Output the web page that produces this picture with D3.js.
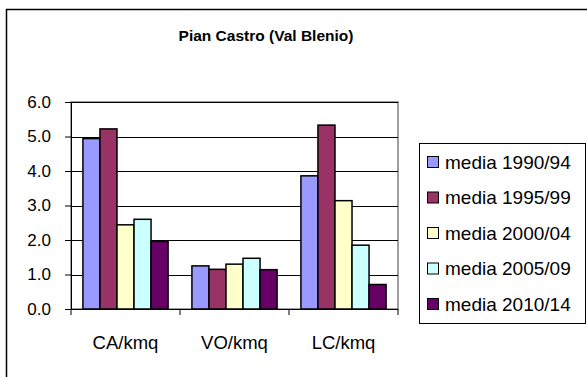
<!DOCTYPE html>
<html>
<head>
<meta charset="utf-8">
<script src="https://cdn.jsdelivr.net/npm/d3@7"></script>
<style>
  html, body { margin: 0; padding: 0; background: #fff; }
  svg text { font-family: "Liberation Sans", Arial, sans-serif; fill: #000; }
</style>
</head>
<body>
<svg id="chart" width="587" height="377"></svg>
<script>
const title = "Pian Castro (Val Blenio)";
const categories = ["CA/kmq", "VO/kmq", "LC/kmq"];
const seriesNames = ["media 1990/94", "media 1995/99", "media 2000/04", "media 2005/09", "media 2010/14"];
const seriesColors = ["#9999ff", "#993366", "#ffffcc", "#ccffff", "#660066"];
const s1990 = [4.94, 1.25, 3.86];
const s1995 = [5.22, 1.15, 5.33];
const s2000 = [2.44, 1.30, 3.14];
const s2005 = [2.60, 1.47, 1.85];
const s2010 = [1.96, 1.14, 0.71];
const yTicks = [0, 1, 2, 3, 4, 5, 6];
const seriesValues = [s1990, s1995, s2000, s2005, s2010];

const svg = d3.select("#chart");

// outer chart border
svg.append("rect").attr("x", 6.5).attr("y", 9.5).attr("width", 600).attr("height", 400)
  .attr("fill", "#fff").attr("stroke", "#000").attr("stroke-width", 1.5);

svg.append("text").attr("x", 266).attr("y", 41).attr("text-anchor", "middle")
  .attr("font-weight", "bold").attr("font-size", 15.5).text(title);

const plot = {left: 71, right: 398, top: 102, bottom: 309};

const x0 = d3.scaleBand().domain(categories).range([plot.left, plot.right]).paddingInner(0).paddingOuter(0);
const x1 = d3.scaleBand().domain(seriesNames).range([0, x0.bandwidth()]).paddingOuter(0.7).paddingInner(0);
const y = d3.scaleLinear().domain([0, 6]).range([plot.bottom, plot.top]);

// plot area border (gray)
svg.append("rect").attr("x", plot.left).attr("y", plot.top)
  .attr("width", plot.right - plot.left).attr("height", plot.bottom - plot.top)
  .attr("fill", "#fff").attr("stroke", "#808080").attr("stroke-width", 1.5);

// gridlines
svg.append("g").selectAll("line").data(yTicks.filter(d => d > 0)).join("line")
  .attr("x1", plot.left).attr("x2", plot.right)
  .attr("y1", d => Math.round(y(d)) + 0.5).attr("y2", d => Math.round(y(d)) + 0.5)
  .attr("stroke", "#000").attr("stroke-width", 1);

// bars
const groups = svg.append("g").selectAll("g").data(categories).join("g")
  .attr("transform", c => `translate(${x0(c)},0)`);
groups.selectAll("rect").data((c, ci) => seriesNames.map((s, si) => ({s, si, v: seriesValues[si][ci]})))
  .join("rect")
  .attr("x", d => x1(d.s)).attr("width", x1.bandwidth())
  .attr("y", d => y(d.v)).attr("height", d => y(0) - y(d.v))
  .attr("fill", d => seriesColors[d.si]).attr("stroke", "#000").attr("stroke-width", 1.5);

// y axis
const yAxis = d3.axisLeft(y).tickValues(yTicks).tickFormat(d3.format(".1f")).tickSize(6).tickPadding(14);
const gy = svg.append("g").attr("transform", `translate(${plot.left},0)`).call(yAxis);
gy.select(".domain").attr("stroke", "#000");
gy.selectAll(".tick line").attr("stroke", "#000");
gy.selectAll("text").attr("font-size", 17).attr("font-family", "Liberation Sans, Arial, sans-serif").attr("fill", "#000");

// x axis
const gx = svg.append("g").attr("transform", `translate(0,${plot.bottom})`);
gx.append("line").attr("x1", plot.left).attr("x2", plot.right).attr("y1", 0.5).attr("y2", 0.5).attr("stroke", "#000");
const sepTicks = categories.map(c => x0(c)).concat([plot.right]);
gx.selectAll(".sep").data(sepTicks).join("line").attr("class", "sep")
  .attr("x1", d => d).attr("x2", d => d).attr("y1", 0).attr("y2", 6).attr("stroke", "#000");
gx.selectAll(".lab").data(categories).join("text").attr("class", "lab")
  .attr("x", c => x0(c) + x0.bandwidth() / 2).attr("y", 40)
  .attr("text-anchor", "middle").attr("font-size", 18.5).text(c => c);

// legend
const lg = svg.append("g");
lg.append("rect").attr("x", 419.5).attr("y", 143.5).attr("width", 166).attr("height", 180)
  .attr("fill", "#fff").attr("stroke", "#000").attr("stroke-width", 1);
const items = lg.selectAll("g").data(seriesNames).join("g")
  .attr("transform", (d, i) => `translate(427,${162 + i * 35.5})`);
items.append("rect").attr("x", 0.5).attr("y", -5.5).attr("width", 11).attr("height", 11)
  .attr("fill", (d, i) => seriesColors[i]).attr("stroke", "#000").attr("stroke-width", 1);
items.append("text").attr("x", 18).attr("y", 6.5).attr("font-size", 19).text(d => d);
</script>
</body>
</html>
